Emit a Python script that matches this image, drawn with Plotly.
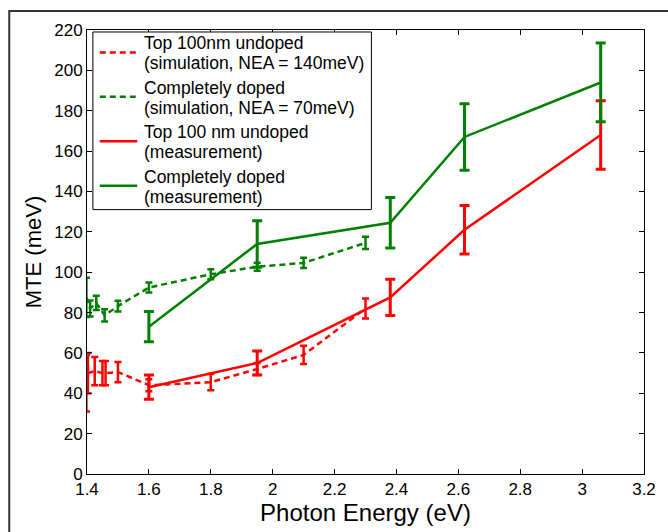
import plotly.graph_objects as go

# Simulation: top 100 nm undoped (NEA = 140 meV)
sim_undoped_x = [1.398, 1.403, 1.425, 1.45, 1.46, 1.50, 1.60, 1.80, 1.95, 2.10, 2.30]
sim_undoped_y = [45, 50, 51, 50, 50, 50.5, 44, 45.5, 52, 59, 82]
sim_undoped_err = [14, 10, 7, 6, 6, 5, 3, 4, 3, 4.5, 5]

# Simulation: completely doped (NEA = 70 meV)
sim_doped_x = [1.398, 1.41, 1.43, 1.457, 1.50, 1.60, 1.80, 1.95, 2.10, 2.30]
sim_doped_y = [87.5, 82, 84.8, 78.6, 83.2, 92.4, 99, 102.7, 104.6, 114.5]
sim_doped_err = [9.7, 4, 3.5, 3, 2.7, 2.5, 2.5, 2, 2.5, 3]

# Measurement: top 100 nm undoped
meas_undoped_x = [1.60, 1.95, 2.38, 2.62, 3.06]
meas_undoped_y = [43, 55, 87.5, 121, 168]
meas_undoped_err = [6, 6, 9, 12, 17]

# Measurement: completely doped
meas_doped_x = [1.60, 1.95, 2.38, 2.62, 3.06]
meas_doped_y = [73, 114, 124.5, 167, 194]
meas_doped_err = [7.5, 11.5, 12.5, 16.5, 19.5]

legend_labels = [
    ["Top 100nm undoped", "(simulation, NEA = 140meV)"],
    ["Completely doped", "(simulation, NEA = 70meV)"],
    ["Top 100 nm undoped", "(measurement)"],
    ["Completely doped", "(measurement)"],
]

x_ticks = [1.4, 1.6, 1.8, 2.0, 2.2, 2.4, 2.6, 2.8, 3.0, 3.2]
y_ticks = list(range(0, 221, 20))

RED = "#ff0000"
GREEN = "#008000"
FONT = "Liberation Sans, Arial, sans-serif"
DASH = "6px,4px"

# Figure geometry (pixels) used to place the hand-built legend in paper units
W, H = 668, 532
M_L, M_R, M_T, M_B = 87, 15, 30, 57
PW, PH = W - M_L - M_R, H - M_T - M_B


def px_x(p):
    return (p - M_L) / PW


def px_y(p):
    return (H - M_B - p) / PH


fig = go.Figure()

series = [
    (sim_undoped_x, sim_undoped_y, sim_undoped_err, RED, DASH, 2.5, 3.5),
    (sim_doped_x, sim_doped_y, sim_doped_err, GREEN, DASH, 2.5, 3.5),
    (meas_undoped_x, meas_undoped_y, meas_undoped_err, RED, "solid", 3, 5),
    (meas_doped_x, meas_doped_y, meas_doped_err, GREEN, "solid", 3, 5),
]

for (x, y, err, color, dash, bar_thick, cap), label in zip(series, legend_labels):
    fig.add_trace(go.Scatter(
        x=x, y=y, name=" ".join(label), mode="lines", showlegend=False,
        line=dict(color=color, width=2.5, dash=dash),
        error_y=dict(type="data", array=err, visible=True, color=color,
                     thickness=bar_thick, width=cap),
    ))

axis_common = dict(
    showline=True, linecolor="black", linewidth=1, mirror="ticks",
    ticks="inside", ticklen=5, tickcolor="black", showgrid=False, zeroline=False,
    tickfont=dict(family=FONT, size=17, color="black"),
)

fig.update_xaxes(range=[1.4, 3.2], tickvals=x_ticks,
                 title=dict(text="Photon Energy (eV)", font=dict(family=FONT, size=24, color="black"),
                            standoff=4),
                 **axis_common)
fig.update_yaxes(range=[0, 220], tickvals=y_ticks,
                 title=dict(text="MTE (meV)", font=dict(family=FONT, size=22, color="black"),
                            standoff=6),
                 **axis_common)

shapes = []
annotations = []

# Outer figure frame
shapes.append(dict(type="rect", xref="paper", yref="paper",
                   x0=px_x(8), x1=px_x(700), y0=px_y(560), y1=px_y(11),
                   line=dict(color="#333333", width=2), layer="below"))

# Legend box with line samples and two-line labels
LEG_LEFT, LEG_RIGHT, LEG_TOP, LEG_BOTTOM = 93, 376, 32, 210
ITEM_PITCH, LINE_GAP = 44.5, 20
shapes.append(dict(type="rect", xref="paper", yref="paper",
                   x0=px_x(LEG_LEFT), x1=px_x(LEG_RIGHT),
                   y0=px_y(LEG_BOTTOM), y1=px_y(LEG_TOP),
                   line=dict(color="black", width=1), fillcolor="white", layer="above"))
for i, ((_, _, _, color, dash, _, _), label) in enumerate(zip(series, legend_labels)):
    first_line = LEG_TOP + 11.5 + i * ITEM_PITCH
    mid = first_line + LINE_GAP / 2 - 1
    shapes.append(dict(type="line", xref="paper", yref="paper",
                       x0=px_x(100), x1=px_x(138), y0=px_y(mid), y1=px_y(mid),
                       line=dict(color=color, width=2.5, dash=dash), layer="above"))
    for j, text in enumerate(label):
        annotations.append(dict(
            text=text, xref="paper", yref="paper",
            x=px_x(143), y=px_y(first_line + j * LINE_GAP),
            xanchor="left", yanchor="middle", showarrow=False,
            font=dict(family=FONT, size=17.5, color="black"),
        ))

fig.update_layout(
    width=W, height=H,
    margin=dict(l=M_L, r=M_R, t=M_T, b=M_B),
    paper_bgcolor="white", plot_bgcolor="white",
    font=dict(family=FONT, color="black"),
    showlegend=False,
    shapes=shapes, annotations=annotations,
)

fig.write_html("out.html")
